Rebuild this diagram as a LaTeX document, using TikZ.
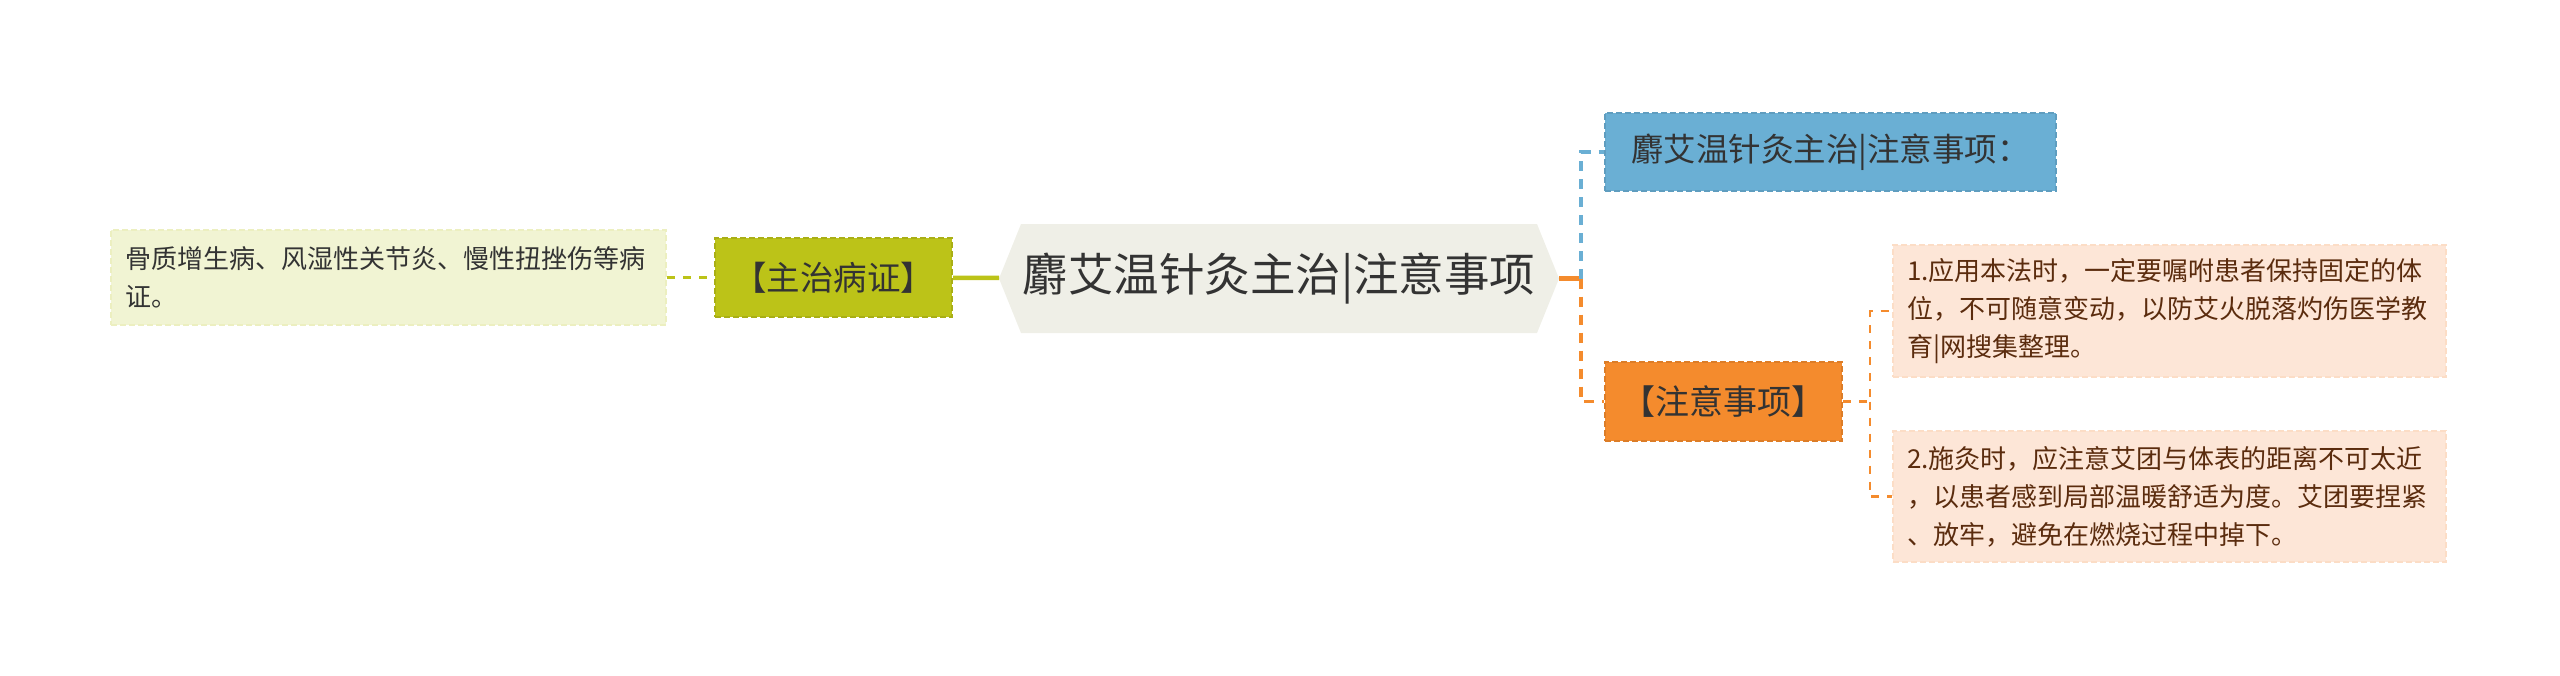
\documentclass[tikz,border=0pt]{standalone}
\usepackage{fontspec}
\setmainfont{Noto Sans CJK SC}
\usetikzlibrary{shapes.symbols}
\definecolor{txt}{HTML}{333333}
\definecolor{brown}{HTML}{5B2C0E}
\definecolor{hexfill}{HTML}{EFEFE7}
\definecolor{olivec}{HTML}{BCC318}
\definecolor{olivel}{HTML}{F1F4D3}
\definecolor{bluec}{HTML}{6AAFD4}
\definecolor{orangec}{HTML}{F48B2D}
\definecolor{peach}{HTML}{FDE6D7}
\begin{document}
\begin{tikzpicture}[x=1pt,y=-1pt,
  box/.style={draw,dash pattern=on 6pt off 3pt,line width=2pt,inner sep=0pt,text=txt},
  leaf/.style={box,align=left,text width=#1,font=\fontsize{26}{38}\selectfont},
  link/.style={line width=3.5pt,dash pattern=on 10pt off 8pt},
  twig/.style={line width=2.5pt,dash pattern=on 8pt off 8pt}]
\useasboundingbox (0,0) rectangle (2560,675);
\node[shape=signal,signal to=west and east,signal pointer angle=136,fill=hexfill,minimum width=560pt,
  minimum height=109pt,inner sep=0pt,text=txt,font=\fontsize{45.5}{52}\selectfont] (root) at (1279,278.5) {麝艾温针灸主治|注意事项};
\node[box,fill=olivec,draw=olivec!90!black,minimum width=237pt,minimum height=79pt,font=\fontsize{33.5}{38}\selectfont] (zhuzhi) at (833.5,277.5) {【主治病证】};
\node[leaf=527pt,fill=olivel,draw=olivel!90!olivec,minimum width=555pt,minimum height=95pt] (gu) at (388.5,277.5)
  {骨质增生病、风湿性关节炎、慢性扭挫伤等病\\证。};
\node[box,fill=bluec,draw=bluec!90!black,minimum width=451pt,minimum height=78pt,font=\fontsize{32.5}{38}\selectfont] (head) at (1830.5,152) {麝艾温针灸主治|注意事项：};
\node[box,fill=orangec,draw=orangec!90!black,minimum width=237pt,minimum height=79pt,font=\fontsize{34}{38}\selectfont] (zhuyi) at (1723.5,401.5) {【注意事项】};
\node[leaf=525pt,fill=peach,draw=peach!90!orangec,text=brown,minimum width=553pt,minimum height=132pt] (r1) at (2169.5,311)
  {1.应用本法时，一定要嘱咐患者保持固定的体\\位，不可随意变动，以防艾火脱落灼伤医学教\\育|网搜集整理。};
\node[leaf=525pt,fill=peach,draw=peach!90!orangec,text=brown,minimum width=553pt,minimum height=131pt] (r2) at (2169.5,496.5)
  {2.施灸时，应注意艾团与体表的距离不可太近\\，以患者感到局部温暖舒适为度。艾团要捏紧\\、放牢，避免在燃烧过程中掉下。};
% links
\draw[olivec,line width=4.5pt](zhuzhi)--(root);
\draw[olivec,twig](gu)--(zhuzhi);
\coordinate (fork) at (1581,278.5);
\coordinate (fork2) at (1870,401.5);
\draw[orangec,line width=4.5pt](root.east)--(fork);
\draw[bluec,link](fork)|-(head.west);
\draw[orangec,link](fork)|-(zhuyi.west);
\draw[orangec,twig](zhuyi.east)--(fork2)|-(r1.west);
\draw[orangec,twig](fork2)|-(r2.west);
\end{tikzpicture}
\end{document}
